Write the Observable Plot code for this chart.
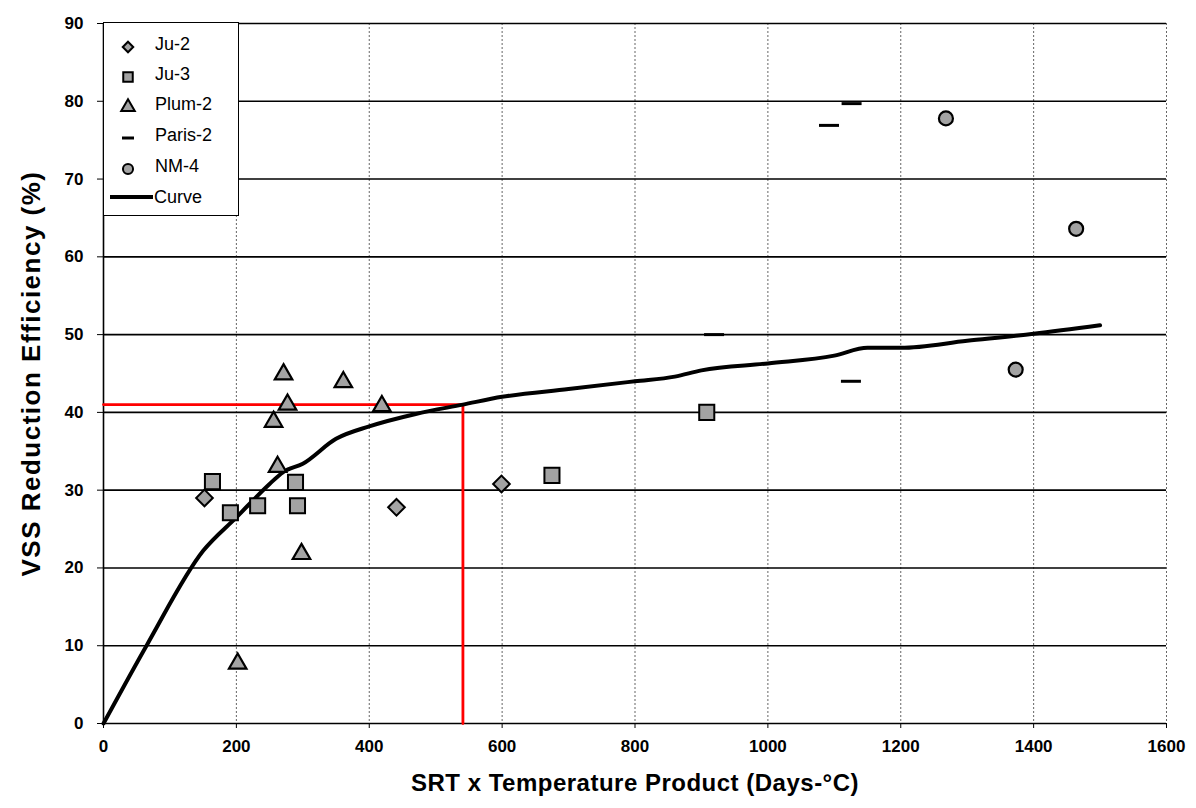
<!DOCTYPE html>
<html>
<head>
<meta charset="utf-8">
<script src="https://cdn.jsdelivr.net/npm/d3@7"></script>
<script src="https://cdn.jsdelivr.net/npm/@observablehq/plot@0.6"></script>
<style>
  html, body { margin: 0; padding: 0; background: #fff; }
  #wrap { position: relative; width: 1196px; height: 808px; }
  #legend { position: absolute; left: 103px; top: 22px; }
  .ytitle text { letter-spacing: 1.5px; }
  .xtitle text { letter-spacing: 0.5px; }
</style>
</head>
<body>
<div id="wrap"></div>
<script>
// ---- data ----
const xTicks = [0, 200, 400, 600, 800, 1000, 1200, 1400, 1600];
const yTicks = [0, 10, 20, 30, 40, 50, 60, 70, 80, 90];

const ju2X = [152, 441, 599];
const ju2Y = [29.0, 27.8, 30.8];

const ju3X = [164, 191, 232, 289, 292, 675, 908];
const ju3Y = [31.1, 27.1, 28.0, 31.0, 28.0, 31.9, 40.0];

const plum2X = [202, 256, 262, 271, 277, 298, 361, 419];
const plum2Y = [7.7, 38.8, 33.0, 44.9, 41.0, 21.8, 43.9, 40.8];

const paris2X = [919, 1092, 1125, 1126];
const paris2Y = [50.0, 76.9, 44.0, 79.7];

const nm4X = [1268, 1373, 1464];
const nm4Y = [77.8, 45.5, 63.6];

const curveX = [0, 66, 150, 200, 250, 270, 300, 350, 400, 470, 541, 600, 700, 800, 860, 900, 1000, 1100, 1150, 1200, 1300, 1400, 1500];
const curveY = [0, 10.2, 22.2, 26.5, 30.8, 32.3, 33.4, 36.6, 38.2, 39.8, 41.0, 42.0, 43.0, 44.0, 44.6, 45.4, 46.3, 47.3, 48.3, 48.3, 49.2, 50.1, 51.2];

const refX = [0, 541, 541];
const refY = [41, 41, 0];

const seriesNames = ["Ju-2", "Ju-3", "Plum-2", "Paris-2", "NM-4", "Curve"];

const xTitle = "SRT x Temperature Product (Days-\u00B0C)";
const yTitle = "VSS Reduction Efficiency (%)";

// ---- build tables ----
const pts = (xs, ys) => xs.map((x, i) => ({x, y: ys[i]}));
const ju2 = pts(ju2X, ju2Y);
const ju3 = pts(ju3X, ju3Y);
const plum2 = pts(plum2X, plum2Y);
const paris2 = pts(paris2X, paris2Y);
const nm4 = pts(nm4X, nm4Y);
const curve = pts(curveX, curveY);
const ref = pts(refX, refY);

const dashSymbol = {
  draw(context, size) {
    const w = Math.sqrt(size / Math.PI);
    context.moveTo(-w, 0);
    context.lineTo(w, 0);
  }
};

const FILL = "#a3a3a3";
const font = "'Liberation Sans', Arial, sans-serif";

const chart = Plot.plot({
  width: 1196,
  height: 808,
  marginLeft: 103,
  marginRight: 30,
  marginTop: 23,
  marginBottom: 85,
  x: {domain: [0, 1600]},
  y: {domain: [0, 90]},
  style: {fontFamily: font, background: "#fff", color: "#000"},
  marks: [
    Plot.gridX(xTicks.filter(d => d > 0), {stroke: "#555", strokeOpacity: 0.9, strokeWidth: 1, strokeDasharray: "2,2"}),
    Plot.gridY(yTicks.filter(d => d > 0), {stroke: "#000", strokeOpacity: 1, strokeWidth: 1.6}),
    Plot.ruleX([0], {stroke: "#000", strokeWidth: 1.6}),
    Plot.ruleY([0], {stroke: "#000", strokeWidth: 1.6}),
    Plot.axisX(xTicks, {tickSize: 5, tickPadding: 11, fontSize: 17, fontWeight: "bold", tickFormat: d => String(d), label: null}),
    Plot.axisY(yTicks, {tickSize: 6, tickPadding: 14, fontSize: 17, fontWeight: "bold", tickFormat: d => String(d), label: null}),
    Plot.text([xTitle], {frameAnchor: "bottom", dy: 67, fontSize: 24, fontWeight: "bold", className: "xtitle"}),
    Plot.text([yTitle], {frameAnchor: "left", textAnchor: "middle", dx: -72, rotate: -90, fontSize: 26, fontWeight: "bold", className: "ytitle"}),
    Plot.line(ref, {x: "x", y: "y", stroke: "#ff0000", strokeWidth: 2.8}),
    Plot.line(curve, {x: "x", y: "y", stroke: "#000", strokeWidth: 4, curve: "monotone-x"}),
    Plot.dot(ju2, {x: "x", y: "y", symbol: "diamond2", r: 7.5, fill: FILL, stroke: "#000", strokeWidth: 2}),
    Plot.dot(ju3, {x: "x", y: "y", symbol: "square", r: 8.5, fill: FILL, stroke: "#000", strokeWidth: 2}),
    Plot.dot(plum2, {x: "x", y: "y", symbol: "triangle", r: 6.5, fill: FILL, stroke: "#000", strokeWidth: 2.2}),
    Plot.dot(paris2, {x: "x", y: "y", symbol: dashSymbol, r: 10, stroke: "#000", strokeWidth: 3}),
    Plot.dot(nm4, {x: "x", y: "y", symbol: "circle", r: 7, fill: FILL, stroke: "#000", strokeWidth: 2.2})
  ]
});
document.getElementById("wrap").appendChild(chart);

// ---- legend (overlaid inside the plot, top-left) ----
const legend = d3.create("svg")
  .attr("id", "legend")
  .attr("width", 136)
  .attr("height", 194)
  .style("font-family", font);
legend.append("rect").attr("x", 0.5).attr("y", 0.5).attr("width", 135).attr("height", 193)
  .attr("fill", "#fff").attr("stroke", "#000").attr("stroke-width", 1);
const rowY = [22, 52, 82, 113, 144, 175];
const symX = 25;
const symDefs = [
  {s: d3.symbolDiamond2, size: 70},
  {s: d3.symbolSquare, size: 90},
  {s: d3.symbolTriangle, size: 80},
  null,
  {s: d3.symbolCircle, size: 80},
  null
];
seriesNames.forEach((name, i) => {
  const y = rowY[i];
  const g = legend.append("g");
  if (i === 3) {
    g.append("line").attr("x1", symX - 6).attr("x2", symX + 6).attr("y1", y + 3).attr("y2", y + 3)
      .attr("stroke", "#000").attr("stroke-width", 3);
  } else if (i === 5) {
    g.append("line").attr("x1", 7).attr("x2", 50).attr("y1", y).attr("y2", y)
      .attr("stroke", "#000").attr("stroke-width", 4);
  } else {
    const d = symDefs[i];
    g.append("path").attr("d", d3.symbol(d.s, d.size)())
      .attr("transform", `translate(${symX},${y + 3})`)
      .attr("fill", FILL).attr("stroke", "#000").attr("stroke-width", 2);
  }
  g.append("text").attr("x", i === 5 ? 51 : 52).attr("y", y).attr("dy", "0.35em")
    .attr("font-size", 18).text(name);
});
document.getElementById("wrap").appendChild(legend.node());
</script>
</body>
</html>
